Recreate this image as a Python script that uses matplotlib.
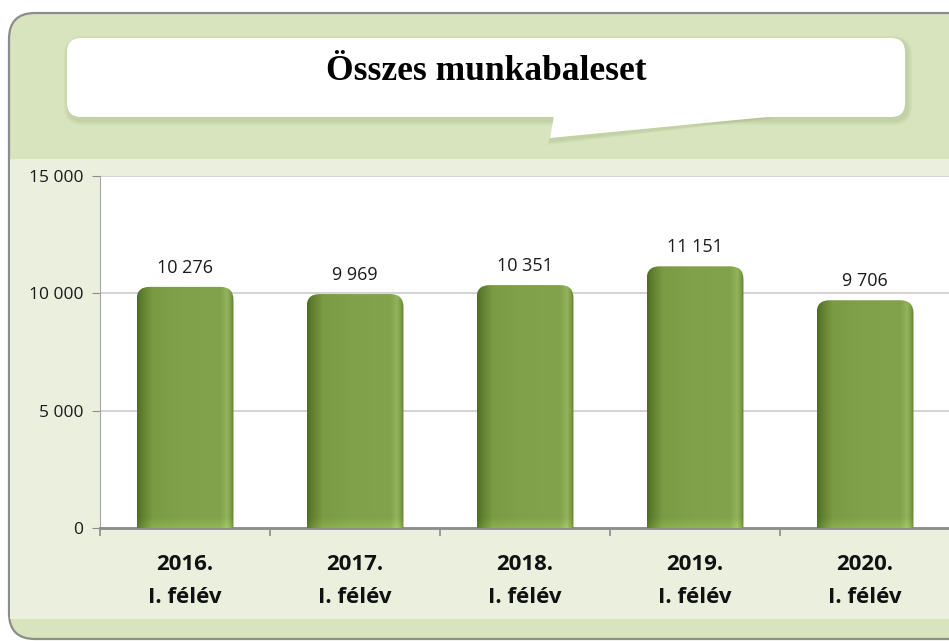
import numpy as np
import matplotlib
matplotlib.use("Agg")
import matplotlib.pyplot as plt
from matplotlib.patches import FancyBboxPatch, Polygon, Rectangle
from matplotlib.ticker import FuncFormatter

# ---- data ----
categories = ["2016.\nI. félév", "2017.\nI. félév", "2018.\nI. félév",
              "2019.\nI. félév", "2020.\nI. félév"]
values = [10276, 9969, 10351, 11151, 9706]
title = "Összes munkabaleset"
y_ticks = [0, 5000, 10000, 15000]

W, H = 949, 641
fig = plt.figure(figsize=(W / 100, H / 100), dpi=100)
fig.patch.set_facecolor("white")

# ---- background frame (pixel coordinates) ----
bg = fig.add_axes([0, 0, 1, 1])
bg.set_xlim(0, W)
bg.set_ylim(H, 0)
bg.axis("off")

frame = FancyBboxPatch((9, 13), 980, 626, boxstyle="round,pad=0,rounding_size=26",
                       facecolor="#D7E4BD", edgecolor="#8C8C8C", linewidth=1.6)
bg.add_patch(frame)
band = Rectangle((9.8, 159), 960, 460, facecolor="#EBF0DE", edgecolor="none")
band.set_clip_path(frame)
bg.add_patch(band)

# callout soft shadow
for k, a in [(5, 0.10), (3.5, 0.12), (2, 0.14)]:
    bg.add_patch(FancyBboxPatch((67 - k + 2, 38 - k + 3), 838 + 2 * k, 79 + 2 * k,
                                boxstyle=f"round,pad=0,rounding_size={14 + k}",
                                facecolor="#9DB07A", edgecolor="none", alpha=a))
    bg.add_patch(Polygon([[555, 117], [550 - k * 0.5, 140 + k], [770 + k, 118]],
                         closed=True, facecolor="#9DB07A", edgecolor="none", alpha=a))
# callout
box = FancyBboxPatch((67, 38), 838, 79, boxstyle="round,pad=0,rounding_size=14",
                     facecolor="white", edgecolor="none")
bg.add_patch(box)
bg.add_patch(Polygon([[555, 110], [550, 138], [767, 117], [767, 110]], closed=True,
                     facecolor="white", edgecolor="none"))
bg.text(486, 72, title, ha="center", va="center", fontsize=25.5, fontweight="bold",
        family="Liberation Serif", color="black")

# ---- chart axes ----
x0, x1, ytop, ybot = 100, 950, 176, 528
ax = fig.add_axes([x0 / W, (H - ybot) / H, (x1 - x0) / W, (ybot - ytop) / H])
ax.set_facecolor("white")
ax.set_xlim(-0.5, len(values) - 0.5)
ax.set_ylim(0, 15000)
ax.set_yticks(y_ticks)
ax.yaxis.set_major_formatter(FuncFormatter(lambda v, p: f"{int(v):,}".replace(",", " ")))
ax.set_xticks(range(len(values)))
ax.set_xticklabels(categories)
ax.set_xticks(np.arange(-0.5, len(values), 1.0), minor=True)

for s in ["top", "right"]:
    ax.spines[s].set_visible(False)
ax.spines["left"].set_color("#A6A6A6")
ax.spines["bottom"].set_color("#8C8C8C")
ax.spines["bottom"].set_linewidth(2)
ax.grid(axis="y", color="#D0D0D0", linewidth=1.3)
ax.set_axisbelow(True)

ax.tick_params(axis="y", length=6, color="#8C8C8C", labelsize=12.5, pad=6,
               labelcolor="#1a1a1a")
ax.tick_params(axis="x", which="major", length=0, pad=19)
ax.tick_params(axis="x", which="minor", length=6, color="#8C8C8C", width=1.2)
for lab in ax.get_yticklabels():
    lab.set_family("Open Sans")
for lab in ax.get_xticklabels():
    lab.set_family("Open Sans")
    lab.set_fontweight("bold")
    lab.set_fontsize(16)
    lab.set_linespacing(1.7)
    lab.set_color("#111111")

# bars with rounded tops and cylinder-like gradient
bw = 0.57
fig.canvas.draw()
px_per_x = ax.transData.transform((1, 0))[0] - ax.transData.transform((0, 0))[0]
px_per_y = ax.transData.transform((0, 1))[1] - ax.transData.transform((0, 0))[1]
aspect = px_per_x / px_per_y
rad = 13 / px_per_x

stops_pos = [0.0, 0.05, 0.16, 0.45, 0.86, 0.93, 0.97, 1.0]
stops_col = ["#4F6B26", "#5F7F2F", "#7B9A44", "#80A049", "#82A24B", "#92B25C",
             "#7E9E47", "#5E7D2D"]
def hex2rgb(h):
    return np.array([int(h[i:i + 2], 16) / 255 for i in (1, 3, 5)])
cols = np.array([hex2rgb(c) for c in stops_col])
xs = np.linspace(0, 1, 200)
grad = np.stack([np.interp(xs, stops_pos, cols[:, k]) for k in range(3)], axis=-1)

bars = ax.bar(range(len(values)), values, width=bw, color="none", zorder=2)
for i, (rect, v) in enumerate(zip(bars, values)):
    xl = rect.get_x()
    patch = FancyBboxPatch((xl, -2000), bw, v + 2000,
                           boxstyle=f"round,pad=0,rounding_size={rad}",
                           mutation_aspect=aspect, facecolor="none",
                           edgecolor="none", zorder=3)
    ax.add_patch(patch)
    top_px = (v - np.linspace(v, 0, 160)) * px_per_y  # distance from top in px
    light = np.clip(1 - top_px / 10, 0, 1)[:, None, None] * 0.12
    img = np.clip(grad[None, :, :] * (1 + light), 0, 1)
    im = ax.imshow(img, extent=[xl, xl + bw, 0, v], aspect="auto",
                   zorder=3, origin="lower", interpolation="bilinear")
    im.set_clip_path(patch)
    ax.text(i, v + 820, f"{v:,}".replace(",", " "), ha="center", va="center",
            fontsize=13, family="Open Sans", color="#1a1a1a")

ax.set_xlim(-0.5, len(values) - 0.5)
ax.set_ylim(0, 15000)
fig.savefig("out.png", dpi=100, facecolor=fig.get_facecolor())
